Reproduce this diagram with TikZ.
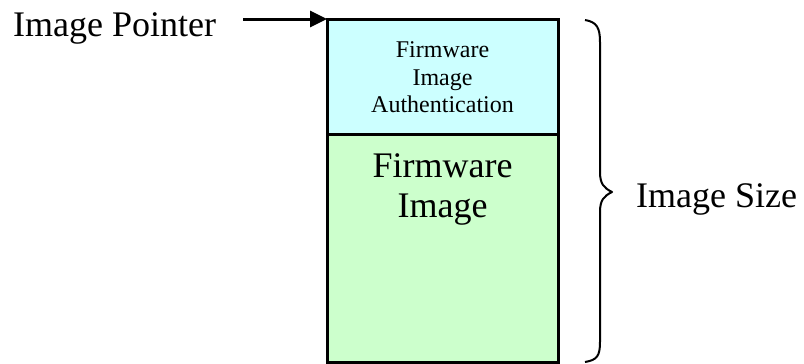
\documentclass[tikz,border=0pt]{standalone}
\usepackage{fontspec}
\setmainfont{Liberation Serif}
\usetikzlibrary{arrows.meta}
\definecolor{authcol}{HTML}{CCFFFF}
\definecolor{fwcol}{HTML}{CCFFCC}
\tikzset{
  blk/.style={draw=black, line width=3pt, inner sep=0pt, outer sep=0pt},
  bigtxt/.style={font=\fontsize{36}{40}\selectfont, inner sep=0pt, align=center},
  smalltxt/.style={font=\fontsize{24}{27.5}\selectfont, inner sep=0pt, align=center},
}
\begin{document}
\begin{tikzpicture}[x=1pt,y=-1pt]
\useasboundingbox (0,0) rectangle (804,364);
% blocks
\node[blk, fill=fwcol, minimum width=231pt, minimum height=228pt, anchor=north west] (fw) at (327,134) {};
\node[blk, fill=authcol, minimum width=231pt, minimum height=115pt, anchor=north west] (auth) at (327,19) {};
\node[smalltxt] (authtxt) at ([yshift=-1pt]auth.center) {Firmware\\Image\\Authentication};
\node[bigtxt, anchor=north] (fwtxt) at ([yshift=-19pt]fw.north) {Firmware\\Image};
% pointer
\node[bigtxt, anchor=base west] (ptrlbl) at (13,36) {Image Pointer};
\coordinate (ptr) at (243,19);
\draw[line width=3pt, -{Triangle[length=17pt,width=16pt]}] (ptr) -- (auth.north west);
% brace
\coordinate (btop) at (585,20);
\coordinate (bbot) at (585,362);
\coordinate (btip) at (612,192);
\draw[line width=2pt, line join=round]
  (btop) .. controls (597,22) and (600,28) .. (600,42)
  -- (600,172) .. controls (600,184) and (604,188) .. (btip)
  .. controls (604,196) and (600,200) .. (600,212)
  -- (600,342) .. controls (600,356) and (597,360) .. (bbot);
\node[bigtxt, anchor=base west] (sizelbl) at (636,207) {Image Size};
\end{tikzpicture}
\end{document}
